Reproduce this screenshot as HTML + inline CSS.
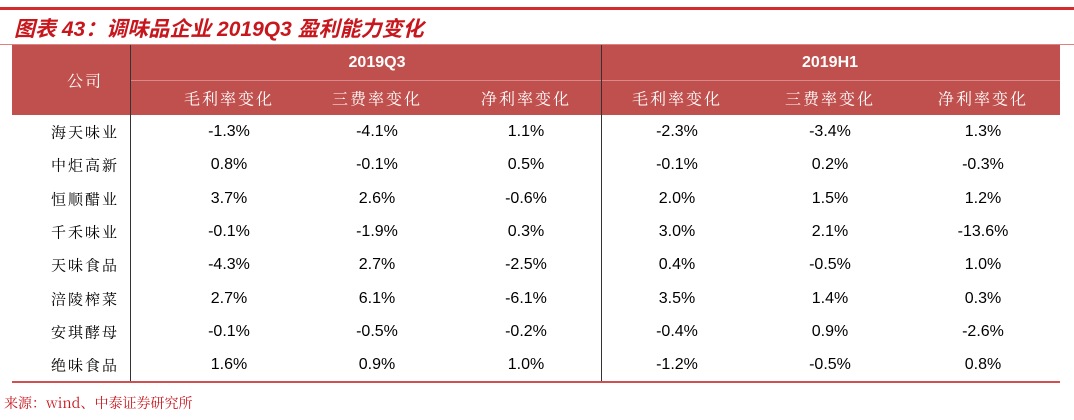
<!DOCTYPE html>
<html><head><meta charset="utf-8"><style>
body{margin:0;width:1074px;height:420px;background:#fff;position:relative;overflow:hidden;font-family:"Liberation Sans","Noto Sans CJK SC",sans-serif}
.a{position:absolute}
.t{position:absolute;transform:translate(-50%,-50%);white-space:nowrap;font-size:16px;color:#000}
.c{font-family:"Noto Serif CJK SC","Liberation Serif",serif;letter-spacing:2px;font-size:15px}
.h{color:#fff;font-family:"Noto Serif CJK SC","Liberation Serif",serif;font-size:16px;letter-spacing:2px}
.hb{color:#fff;font-weight:bold;font-size:16px}
</style></head><body>
<div class="a" style="left:0;top:7px;width:1074px;height:3px;background:#d42c2c"></div>
<div class="a" style="left:14px;top:13px;font-size:21px;font-style:italic;font-weight:bold;color:#c8161d;font-family:'Liberation Sans','Noto Sans CJK SC',sans-serif">图表 43：调味品企业 2019Q3 盈利能力变化</div>
<div class="a" style="left:0;top:44px;width:1074px;height:1px;background:#e08080"></div>
<div class="a" style="left:12px;top:45px;width:1048px;height:70px;background:#c0504d"></div>
<div class="a" style="left:130px;top:80px;width:930px;height:1px;background:#d88"></div>
<div class="a" style="left:130px;top:45px;width:1px;height:337px;background:#333"></div>
<div class="a" style="left:601px;top:45px;width:1px;height:337px;background:#333"></div>
<div class="a" style="left:12px;top:381px;width:1048px;height:2px;background:#d05050"></div>
<div class="t h" style="left:85px;top:80px">公司</div>
<div class="t hb" style="left:377px;top:63px">2019Q3</div>
<div class="t hb" style="left:830px;top:63px">2019H1</div>
<div class="t h" style="left:229px;top:98px">毛利率变化</div>
<div class="t h" style="left:377px;top:98px">三费率变化</div>
<div class="t h" style="left:526px;top:98px">净利率变化</div>
<div class="t h" style="left:677px;top:98px">毛利率变化</div>
<div class="t h" style="left:830px;top:98px">三费率变化</div>
<div class="t h" style="left:983px;top:98px">净利率变化</div>
<div id="rows"></div>
<div class="a" style="left:4px;top:393px;font-size:14px;color:#c8161d;font-family:'Noto Serif CJK SC',serif">来源：wind、中泰证券研究所</div>
<script>
var d=[["海天味业","-1.3%","-4.1%","1.1%","-2.3%","-3.4%","1.3%"],
["中炬高新","0.8%","-0.1%","0.5%","-0.1%","0.2%","-0.3%"],
["恒顺醋业","3.7%","2.6%","-0.6%","2.0%","1.5%","1.2%"],
["千禾味业","-0.1%","-1.9%","0.3%","3.0%","2.1%","-13.6%"],
["天味食品","-4.3%","2.7%","-2.5%","0.4%","-0.5%","1.0%"],
["涪陵榨菜","2.7%","6.1%","-6.1%","3.5%","1.4%","0.3%"],
["安琪酵母","-0.1%","-0.5%","-0.2%","-0.4%","0.9%","-2.6%"],
["绝味食品","1.6%","0.9%","1.0%","-1.2%","-0.5%","0.8%"]];
var xs=[85,229,377,526,677,830,983],h="";
d.forEach(function(r,i){var y=132+i*33.3;r.forEach(function(v,j){h+='<div class="t'+(j==0?' c':'')+'" style="left:'+xs[j]+'px;top:'+y+'px">'+v+'</div>';});});
document.getElementById("rows").innerHTML=h;
</script>
</body></html>
